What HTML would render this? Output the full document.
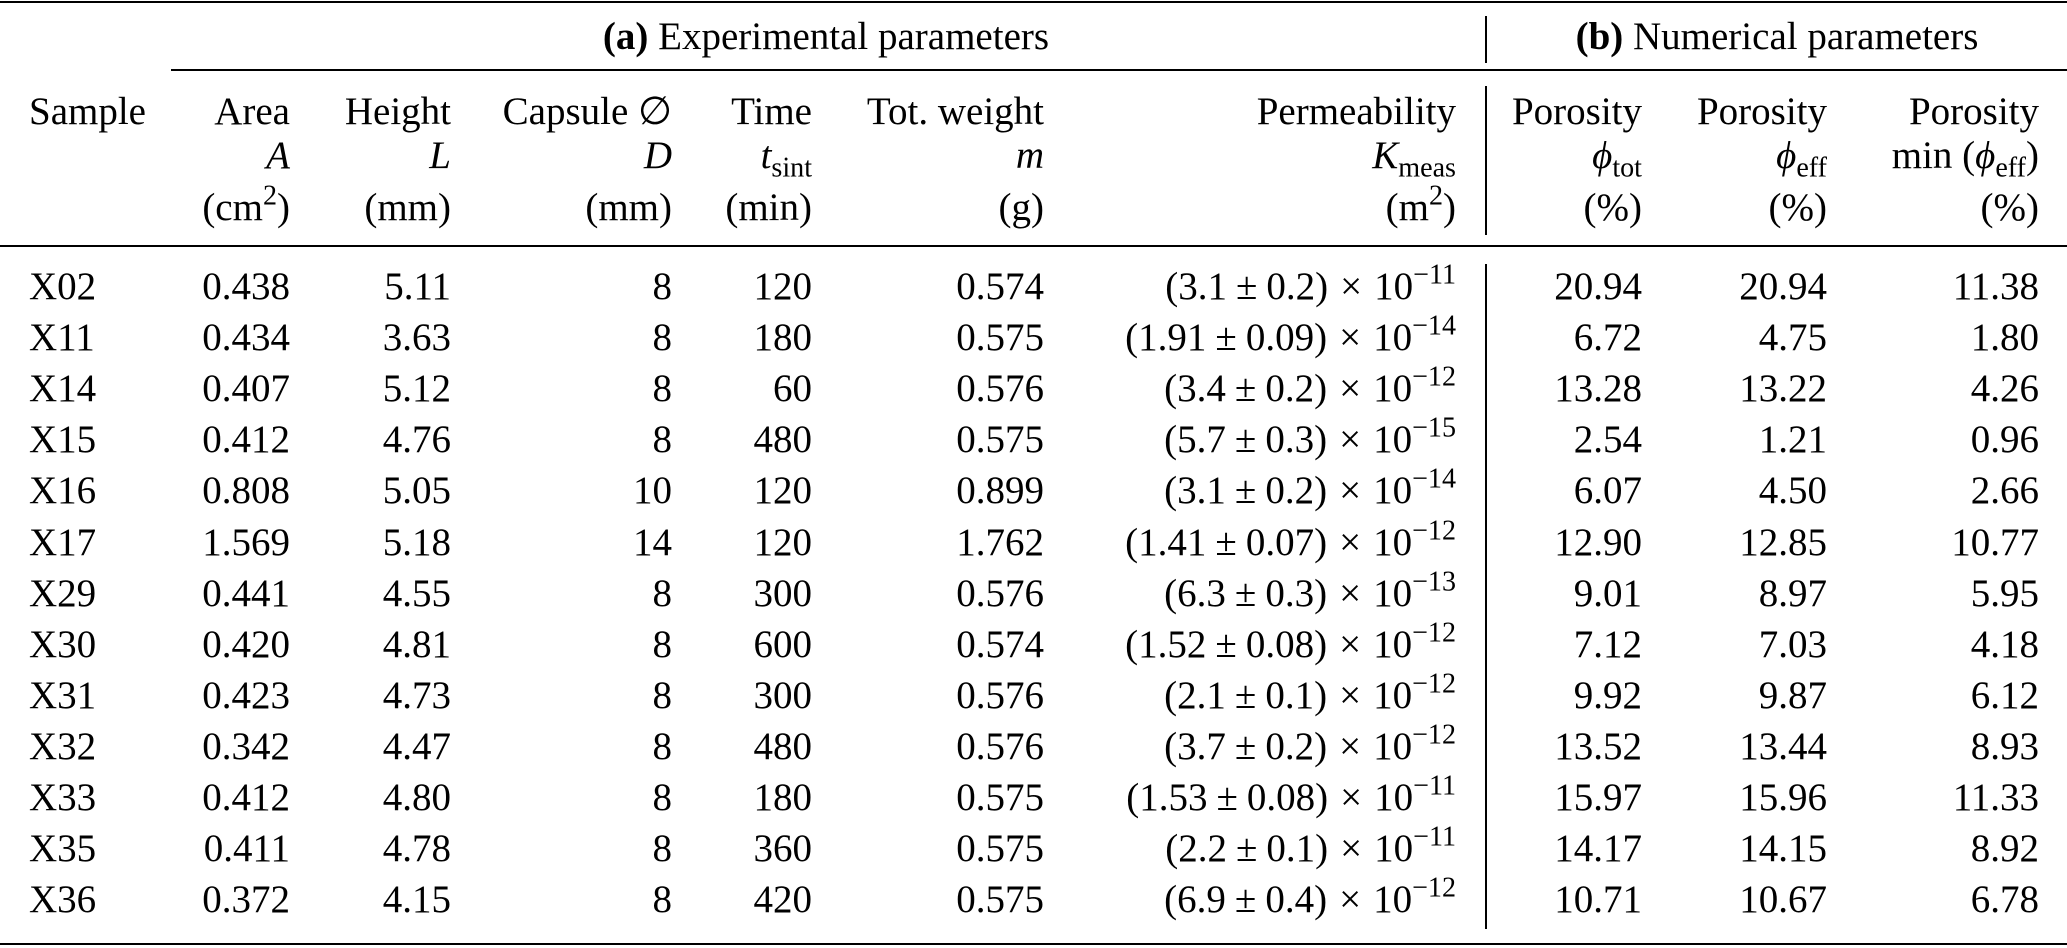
<!DOCTYPE html>
<html><head><meta charset="utf-8">
<style>
body{margin:0;width:2067px;height:948px;background:#fff;position:relative;overflow:hidden;font-family:"Liberation Serif",serif;font-size:39px;color:#000}
.t{position:absolute;white-space:nowrap;line-height:48px;height:48px}
.r{text-align:right}
.rule{position:absolute;background:#000}
sup,sub{font-size:0.72em;line-height:0}
sup{vertical-align:0.55em}
sub{vertical-align:-0.3em}
i{font-style:italic}
.pm{padding:0 9px}
.x{padding:0 12px}
</style></head><body>
<div class="rule" style="left:0;top:1px;width:2067px;height:2px"></div>
<div class="rule" style="left:171px;top:69px;width:1896px;height:2px"></div>
<div class="rule" style="left:0;top:245px;width:2067px;height:2px"></div>
<div class="rule" style="left:0;top:943px;width:2067px;height:2px"></div>
<div class="rule" style="left:1485px;top:16px;width:2px;height:47px"></div>
<div class="rule" style="left:1485px;top:86px;width:2px;height:149px"></div>
<div class="rule" style="left:1485px;top:264px;width:2px;height:665px"></div>

<div class="t" style="left:526px;width:600px;text-align:center;top:13px"><b>(a)</b> Experimental parameters</div>
<div class="t" style="left:1477px;width:600px;text-align:center;top:13px"><b>(b)</b> Numerical parameters</div>

<div id="hdr"></div>
<div id="body"></div>
<script>
const rights=[null,290,451,672,812,1044,1456,1642,1827,2039];
const hdrNames=['sample','area','height','capsule','time','weight','permeability','porosity-tot','porosity-eff','porosity-min'];
const h1=['Sample','Area','Height','Capsule ∅','Time','Tot. weight','Permeability','Porosity','Porosity','Porosity'];
const h2=['','<i>A</i>','<i>L</i>','<i>D</i>','<i>t</i><sub>sint</sub>','<i>m</i>','<i>K</i><sub>meas</sub>','<i>ϕ</i><sub>tot</sub>','<i>ϕ</i><sub>eff</sub>','min (<i>ϕ</i><sub>eff</sub>)'];
const h3=['','(cm<sup>2</sup>)','(mm)','(mm)','(min)','(g)','(m<sup>2</sup>)','(%)','(%)','(%)'];
const samples=['X02','X11','X14','X15','X16','X17','X29','X30','X31','X32','X33','X35','X36'];
const area=['0.438','0.434','0.407','0.412','0.808','1.569','0.441','0.420','0.423','0.342','0.412','0.411','0.372'];
const height=['5.11','3.63','5.12','4.76','5.05','5.18','4.55','4.81','4.73','4.47','4.80','4.78','4.15'];
const capsule=['8','8','8','8','10','14','8','8','8','8','8','8','8'];
const time=['120','180','60','480','120','120','300','600','300','480','180','360','420'];
const weight=['0.574','0.575','0.576','0.575','0.899','1.762','0.576','0.574','0.576','0.576','0.575','0.575','0.575'];
const permVal=['3.1','1.91','3.4','5.7','3.1','1.41','6.3','1.52','2.1','3.7','1.53','2.2','6.9'];
const permErr=['0.2','0.09','0.2','0.3','0.2','0.07','0.3','0.08','0.1','0.2','0.08','0.1','0.4'];
const permExp=['11','14','12','15','14','12','13','12','12','12','11','11','12'];
const porTot=['20.94','6.72','13.28','2.54','6.07','12.90','9.01','7.12','9.92','13.52','15.97','14.17','10.71'];
const porEff=['20.94','4.75','13.22','1.21','4.50','12.85','8.97','7.03','9.87','13.44','15.96','14.15','10.67'];
const porMin=['11.38','1.80','4.26','0.96','2.66','10.77','5.95','4.18','6.12','8.93','11.33','8.92','6.78'];

function cell(parent,html,col,cy){
  const d=document.createElement('div');
  d.className='t';
  d.innerHTML=html;
  d.style.top=(cy-24)+'px';
  if(col===0){d.style.left='29px';}
  else{d.classList.add('r');d.style.right=(2067-rights[col])+'px';}
  parent.appendChild(d);
  return d;
}
const hdr=document.getElementById('hdr');
[[h1,112],[h2,156],[h3,208]].forEach(([arr,cy],k)=>{
  arr.forEach((s,c)=>{ if(!s) return;
    const d=cell(hdr,s,c,cy);
    
    
  });
});
const body=document.getElementById('body');
samples.forEach((s,i)=>{
  const cy=287+51.1*i;
  const vals=[s,area[i],height[i],capsule[i],time[i],weight[i],
    '('+permVal[i]+'<span class="pm">±</span>'+permErr[i]+')<span class="x">×</span>10<sup>−'+permExp[i]+'</sup>',
    porTot[i],porEff[i],porMin[i]];
  vals.forEach((v,c)=>{
    const d=cell(body,v,c,cy);
    
    
  });
});
</script>
</body></html>
